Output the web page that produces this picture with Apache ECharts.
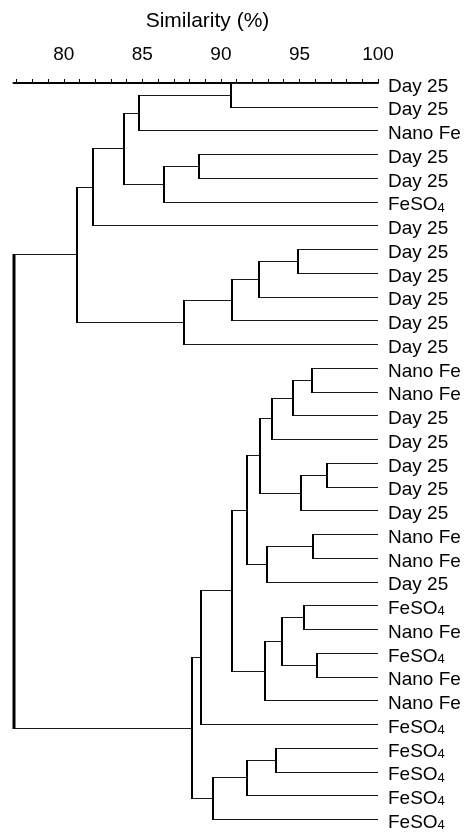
<!DOCTYPE html>
<html>
<head>
<meta charset="utf-8">
<script src="https://cdn.jsdelivr.net/npm/echarts@6/dist/echarts.min.js"></script>
<style>html,body{margin:0;padding:0;background:#fff}#c{width:468px;height:832px}</style>
</head>
<body>
<div id="c"></div>
<script>
// Leaf labels, top to bottom
const leafLabels = ['Day 25','Day 25','Nano Fe','Day 25','Day 25','FeSO4','Day 25','Day 25','Day 25','Day 25','Day 25','Day 25',
  'Nano Fe','Nano Fe','Day 25','Day 25','Day 25','Day 25','Day 25','Nano Fe','Nano Fe','Day 25','FeSO4','Nano Fe','FeSO4','Nano Fe','Nano Fe','FeSO4','FeSO4','FeSO4','FeSO4','FeSO4'];
// Linkage: children (<32 leaf index, >=32 merged node 32+k) and similarity (%) of each merge
const mergeLeft  = [0, 32, 3, 34, 33, 36, 7, 38, 39, 40, 37, 12, 43, 44, 16, 46, 45, 19, 49, 48, 22, 24, 52, 54, 51, 56, 28, 58, 59, 57, 42];
const mergeRight = [1, 2, 4, 5, 35, 6, 8, 9, 10, 11, 41, 13, 14, 15, 17, 18, 47, 20, 21, 50, 23, 25, 53, 26, 55, 27, 29, 30, 31, 60, 61];
const mergeSimilarity = [90.65, 84.78, 88.59, 86.37, 83.83, 81.86, 94.90, 92.44, 90.71, 87.64, 80.87,
  95.83, 94.56, 93.25, 96.74, 95.11, 92.51, 95.85, 92.93, 91.66, 95.30, 96.11, 93.89, 92.83, 90.71, 88.76,
  93.52, 91.66, 89.48, 88.17, 76.81];
// Axis ticks
const tickValues = [77,78,79,80,81,82,83,84,85,86,87,88,89,90,91,92,93,94,95,96,97,98,99,100];
const tickLabels = [80,85,90,95,100];
const leafIndex = leafLabels.map((_, i) => i);

const nLeaves = leafLabels.length;
const nodeY = [], nodeX = [];
for (let i = 0; i < nLeaves; i++) { nodeY[i] = i; nodeX[i] = 100; }
for (let k = 0; k < mergeLeft.length; k++) {
  const a = mergeLeft[k], b = mergeRight[k];
  nodeY[nLeaves + k] = (nodeY[a] + nodeY[b]) / 2;
  nodeX[nLeaves + k] = mergeSimilarity[k];
}
const mergeData = mergeLeft.map((a, k) => [mergeSimilarity[k], nodeY[nLeaves + k], k]);

const chart = echarts.init(document.getElementById('c'), null, {renderer: 'canvas'});
const FONT = '"Liberation Sans", Arial, sans-serif';
chart.setOption({
  animation: false,
  backgroundColor: '#fff',
  graphic: [{
    type: 'text', x: 207.5, y: 21,
    style: {text: 'Similarity (%)', align: 'center', verticalAlign: 'middle', fontSize: 21, fontFamily: FONT, fill: '#000'}
  }],
  grid: {left: 13.5, right: 90, top: 83, bottom: 6, containLabel: false},
  xAxis: {
    type: 'value', position: 'top', min: 76.8, max: 100, offset: 10,
    axisLine: {show: true, lineStyle: {color: '#000', width: 2}},
    axisTick: {show: true, customValues: tickValues, length: 4, inside: false, lineStyle: {color: '#000', width: 1}},
    axisLabel: {customValues: tickLabels, color: '#000', fontSize: 19, fontFamily: FONT, margin: 9},
    splitLine: {show: false}
  },
  yAxis: {
    type: 'value', position: 'right', min: 0, max: nLeaves - 1, inverse: true,
    axisLine: {show: false}, axisTick: {show: false}, splitLine: {show: false},
    axisLabel: {
      customValues: leafIndex, margin: 10, align: 'left', color: '#000', fontSize: 19, fontFamily: FONT,
      padding: [7, 0, 0, 0],
      formatter: function (v) {
        const s = leafLabels[Math.round(v)] || '';
        return s === 'FeSO4' ? 'FeSO{sub|4}' : s;
      },
      rich: {sub: {fontSize: 13, fontFamily: FONT, color: '#000', verticalAlign: 'bottom', padding: [6, 0, 0, 0]}}
    }
  },
  series: [{
    type: 'custom',
    coordinateSystem: 'cartesian2d',
    clip: false,
    data: mergeData,
    renderItem: function (params, api) {
      const k = api.value(2);
      const a = mergeLeft[k], b = mergeRight[k];
      const pj = api.coord([mergeSimilarity[k], nodeY[a]]);
      const pb = api.coord([mergeSimilarity[k], nodeY[b]]);
      const ca = api.coord([nodeX[a], nodeY[a]]);
      const cb = api.coord([nodeX[b], nodeY[b]]);
      const xv = Math.round(pj[0]);
      const ya = Math.round(pj[1]) + 0.5, yb = Math.round(pb[1]) + 0.5;
      const isRoot = k === mergeLeft.length - 1;
      const h = {stroke: '#1a1a1a', lineWidth: 1};
      const v = {stroke: '#000', lineWidth: isRoot ? 3 : 2};
      return {
        type: 'group',
        children: [
          {type: 'line', shape: {x1: xv, y1: ya, x2: Math.round(ca[0]), y2: ya}, style: h},
          {type: 'line', shape: {x1: xv, y1: yb, x2: Math.round(cb[0]), y2: yb}, style: h},
          {type: 'line', shape: {x1: xv, y1: ya - 0.5, x2: xv, y2: yb + 0.5}, style: v}
        ]
      };
    }
  }]
});
</script>
</body>
</html>
